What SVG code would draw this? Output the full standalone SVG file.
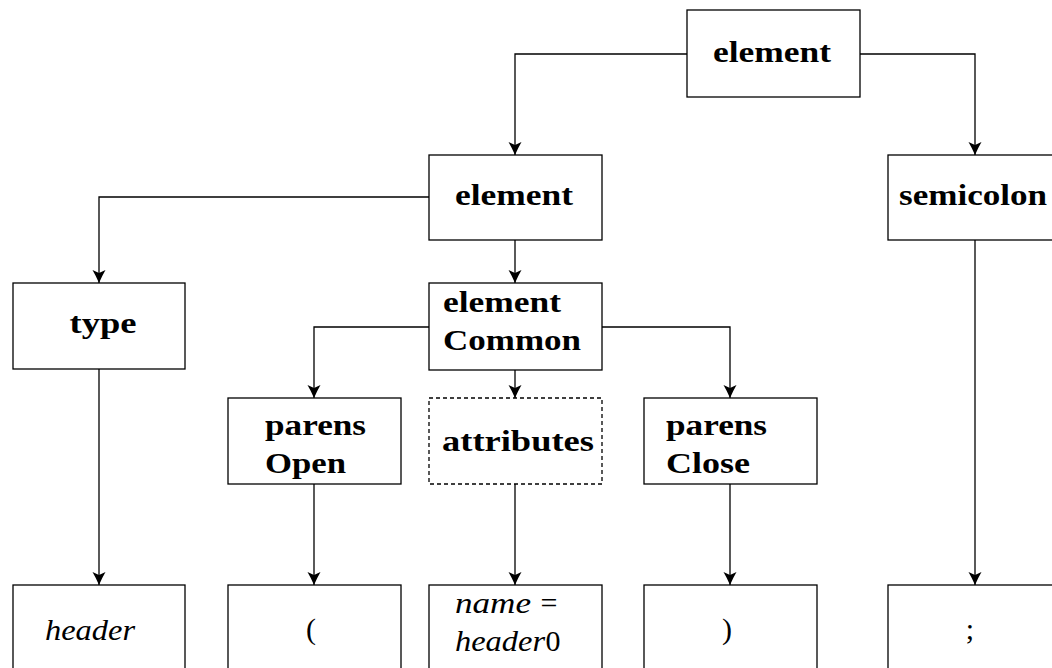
<svg xmlns="http://www.w3.org/2000/svg" width="1052" height="668" viewBox="0 0 1052 668">
  <style>
    .box { fill: #ffffff; stroke: #000000; stroke-width: 1.3; }
    .dashed { stroke-dasharray: 4 3; }
    .lbl { font-weight: bold; font-size: 30px; fill: #000000; }
    .mid { text-anchor: middle; }
    .math { font-style: italic; font-size: 30px; fill: #000000; }
    .sym { font-size: 30px; fill: #000000; text-anchor: middle; }
    .edge { fill: none; stroke: #000000; stroke-width: 1.3; marker-end: url(#arrow); }
  </style>
  <defs>
    <marker id="arrow" markerUnits="userSpaceOnUse" markerWidth="16" markerHeight="16" viewBox="-14 -8 16 16" refX="0" refY="0" orient="auto">
      <path d="M0,0 Q-7,-3 -13,-6.5 L-10,0 L-13,6.5 Q-7,3 0,0 Z" fill="#000000"/>
    </marker>
  </defs>

  <rect width="1052" height="668" fill="#ffffff"/>

  <!-- parse-tree edges -->
  <g id="connectors">
    <path class="edge" d="M687,54 H515 V155"/>
    <path class="edge" d="M860,54 H975 V155"/>
    <path class="edge" d="M429,197 H99 V283"/>
    <path class="edge" d="M515,240 V283"/>
    <path class="edge" d="M429,327 H314 V398"/>
    <path class="edge" d="M602,327 H730 V398"/>
    <path class="edge" d="M515,370 V398"/>
    <path class="edge" d="M99,369 V585"/>
    <path class="edge" d="M314,484 V585"/>
    <path class="edge" d="M515,484 V585"/>
    <path class="edge" d="M730,484 V585"/>
    <path class="edge" d="M975,240 V585"/>
  </g>

  <g font-family="'Liberation Serif', 'Times New Roman', Times, serif">
  <!-- root -->
  <g id="element-root">
    <rect class="box" x="687" y="10" width="173" height="87"/>
    <text class="lbl mid" x="772" y="62" textLength="118" lengthAdjust="spacingAndGlyphs">element</text>
  </g>

  <!-- level 1 -->
  <g id="element">
    <rect class="box" x="429" y="155" width="173" height="85"/>
    <text class="lbl mid" x="514" y="205" textLength="118" lengthAdjust="spacingAndGlyphs">element</text>
  </g>
  <g id="semicolon">
    <rect class="box" x="888" y="155" width="173" height="85"/>
    <text class="lbl mid" x="973" y="205" textLength="148" lengthAdjust="spacingAndGlyphs">semicolon</text>
  </g>

  <!-- level 2 -->
  <g id="type">
    <rect class="box" x="13" y="283" width="172" height="86"/>
    <text class="lbl mid" x="103" y="333" textLength="67" lengthAdjust="spacingAndGlyphs">type</text>
  </g>
  <g id="elementCommon">
    <rect class="box" x="429" y="283" width="173" height="87"/>
    <text class="lbl" x="443" y="312" textLength="118" lengthAdjust="spacingAndGlyphs">element</text>
    <text class="lbl" x="443" y="350" textLength="138" lengthAdjust="spacingAndGlyphs">Common</text>
  </g>

  <!-- level 3 -->
  <g id="parensOpen">
    <rect class="box" x="228" y="398" width="173" height="86"/>
    <text class="lbl" x="265" y="435" textLength="101" lengthAdjust="spacingAndGlyphs">parens</text>
    <text class="lbl" x="265" y="473" textLength="81" lengthAdjust="spacingAndGlyphs">Open</text>
  </g>
  <g id="attributes">
    <rect class="box dashed" x="429" y="398" width="173" height="86"/>
    <text class="lbl mid" x="518" y="451" textLength="152" lengthAdjust="spacingAndGlyphs">attributes</text>
  </g>
  <g id="parensClose">
    <rect class="box" x="644" y="398" width="173" height="86"/>
    <text class="lbl" x="666" y="435" textLength="101" lengthAdjust="spacingAndGlyphs">parens</text>
    <text class="lbl" x="666" y="473" textLength="84" lengthAdjust="spacingAndGlyphs">Close</text>
  </g>

  <!-- leaves -->
  <g id="leaf-header">
    <rect class="box" x="13" y="585" width="172" height="100"/>
    <text class="math" x="45" y="640" textLength="90" lengthAdjust="spacingAndGlyphs">header</text>
  </g>
  <g id="leaf-parenOpen">
    <rect class="box" x="228" y="585" width="173" height="100"/>
    <text class="sym" x="311" y="639">(</text>
  </g>
  <g id="leaf-attr">
    <rect class="box" x="429" y="585" width="173" height="100"/>
    <text class="math" x="455" y="613" textLength="76" lengthAdjust="spacingAndGlyphs">name</text>
    <text class="sym" x="549" y="613">=</text>
    <text class="math" x="455" y="651" textLength="90" lengthAdjust="spacingAndGlyphs">header</text>
    <text class="sym" x="553" y="651">0</text>
  </g>
  <g id="leaf-parenClose">
    <rect class="box" x="644" y="585" width="173" height="100"/>
    <text class="sym" x="727" y="639">)</text>
  </g>
  <g id="leaf-semicolon">
    <rect class="box" x="888" y="585" width="173" height="100"/>
    <text class="sym" x="970" y="639">;</text>
  </g>
  </g>
</svg>
